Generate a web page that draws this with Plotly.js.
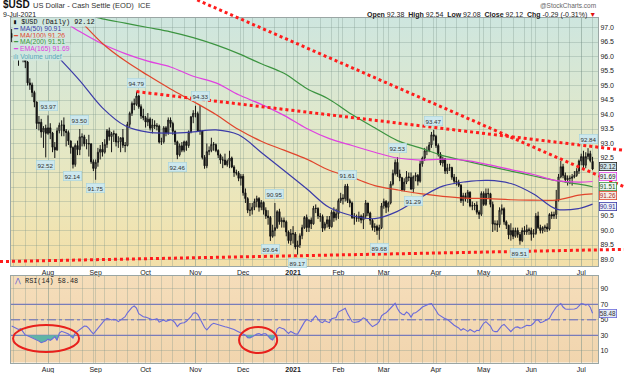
<!DOCTYPE html>
<html><head><meta charset="utf-8">
<script src="https://cdn.plot.ly/plotly-3.0.1.min.js"></script>
<style>html,body{margin:0;padding:0;background:#fff}#chart{width:624px;height:373px}</style>
</head><body><div id="chart"></div>
<script>
// ---------- DATA ----------
// trading-day index 0 = 10-Jul-2020 ... 256 = 9-Jul-2021
const monthIdx = [16,37,59,81,102,124,144,164,187,208,229,251];
const monthLabels = ['Aug','Sep','Oct','Nov','Dec','<b>2021</b>','Feb','Mar','Apr','May','Jun','Jul'];

const openP = [
96.80,96.65,96.46,96.45,95.97,96.31,95.90,95.81,95.09,95.02,94.76,94.43,93.69,93.73,93.40,93.53,
93.35,93.54,93.36,92.87,92.78,93.44,93.63,93.64,93.43,93.38,93.09,92.86,92.28,92.93,92.79,93.23,93.23,92.99,93.00,92.99,92.37,
92.14,92.35,92.70,92.80,92.70,92.97,93.44,93.24,93.34,93.33,93.05,93.06,93.20,92.94,92.93,93.66,94.04,94.38,94.35,94.64,94.27,93.95,
93.89,93.74,93.84,93.53,93.64,93.61,93.60,93.05,93.06,93.54,93.37,93.81,93.69,93.42,93.06,92.61,92.92,92.77,93.06,92.93,93.40,93.92,
94.04,94.03,93.43,93.44,92.52,92.23,92.72,92.76,92.97,92.96,92.76,92.60,92.43,92.43,92.27,92.39,92.50,92.19,92.00,91.98,91.80,
91.87,91.30,91.10,90.70,90.70,90.80,91.00,91.10,90.80,90.97,90.70,90.50,90.45,89.80,90.00,90.10,90.65,90.30,90.35,90.30,89.95,89.65,
89.90,89.88,89.43,89.50,89.82,90.10,90.45,90.10,90.36,90.23,90.77,90.76,90.50,90.48,90.08,90.23,90.37,90.13,90.63,90.44,
90.58,91.03,91.12,91.10,91.53,91.03,90.95,90.45,90.43,90.42,90.49,90.36,90.50,90.95,90.60,90.35,90.10,90.14,90.00,90.10,
90.85,91.00,90.80,90.95,91.60,91.97,92.35,91.95,91.82,91.40,91.67,91.85,91.83,91.43,91.85,91.90,91.70,92.30,92.50,92.75,92.75,92.95,93.30,
93.25,92.93,92.62,92.33,92.47,92.05,92.16,92.17,91.84,91.70,91.67,91.56,91.03,91.20,91.10,91.32,90.85,90.85,90.88,90.63,90.56,
91.28,90.90,91.28,91.27,90.90,90.22,90.23,90.20,90.70,90.75,90.30,90.18,89.85,90.00,89.80,90.00,89.86,89.65,90.00,89.95,90.03,
90.00,89.87,89.90,90.50,90.10,90.00,90.10,90.12,90.05,90.55,90.50,90.55,91.05,91.85,92.20,91.90,91.75,91.80,91.80,91.85,91.90,92.05,
92.40,92.55,92.25,92.55,92.65,92.38];
const highP = [
96.95,96.75,96.85,96.50,96.45,96.40,96.10,95.85,95.25,95.10,94.82,94.45,93.95,93.85,93.60,93.65,
93.97,93.70,93.40,93.05,93.55,93.72,93.80,93.90,93.50,93.45,93.10,92.90,93.00,93.10,93.50,93.35,93.30,93.15,93.30,93.00,92.45,
92.45,92.85,92.95,93.05,93.15,93.50,93.55,93.40,93.45,93.35,93.25,93.20,93.50,93.05,93.75,94.10,94.45,94.55,94.79,94.68,94.35,94.20,
93.95,94.05,93.90,93.85,93.80,93.70,93.65,93.20,93.60,93.60,93.90,93.90,93.75,93.45,93.10,93.00,93.05,93.10,93.10,93.45,93.95,94.15,
94.30,94.10,94.33,93.45,92.60,93.00,92.90,93.20,93.05,93.00,92.80,92.65,92.55,92.65,92.45,92.75,92.55,92.25,92.10,92.05,91.95,
91.95,91.45,91.15,90.95,90.95,91.10,91.20,91.15,91.05,91.00,90.80,90.70,90.50,90.20,90.95,90.70,90.75,90.45,90.45,90.35,90.00,90.05,
90.15,89.95,89.65,89.90,90.20,90.50,90.55,90.40,90.45,90.85,90.90,90.80,90.60,90.55,90.30,90.50,90.50,90.70,90.80,90.75,
91.10,91.30,91.25,91.60,91.61,91.10,91.00,90.60,90.55,90.65,90.55,90.60,91.05,90.95,90.65,90.40,90.25,90.20,90.20,90.95,
91.10,91.05,91.00,91.70,92.10,92.45,92.53,92.10,91.85,91.80,92.05,92.00,92.00,91.90,92.00,91.95,92.40,92.55,92.85,92.90,93.05,93.40,93.47,
93.30,93.00,92.70,92.55,92.50,92.30,92.30,92.20,91.95,91.85,91.75,91.60,91.30,91.30,91.40,91.35,91.00,90.95,91.00,90.70,91.35,
91.35,91.45,91.45,91.30,91.00,90.35,90.35,90.80,90.90,90.80,90.35,90.20,90.25,90.10,90.10,90.10,89.95,90.10,90.15,90.20,90.10,
90.10,90.05,90.60,90.65,90.20,90.15,90.20,90.25,90.60,90.65,90.65,91.40,91.95,92.40,92.30,92.00,91.90,91.90,91.95,92.05,92.15,92.45,
92.65,92.75,92.70,92.84,92.75,92.54];
const lowP = [
96.50,96.10,96.30,95.68,95.90,95.80,95.60,95.00,94.85,94.60,94.25,93.50,93.45,93.20,92.85,92.52,
93.30,93.15,92.70,92.50,92.75,93.35,93.25,93.25,92.90,92.95,92.65,92.14,92.20,92.60,92.60,92.90,92.90,92.80,92.55,92.30,92.05,
91.75,92.20,92.45,92.55,92.65,92.85,93.10,92.70,93.05,92.90,92.85,92.70,92.85,92.70,92.90,93.55,93.95,94.15,94.30,94.20,93.85,93.80,
93.55,93.60,93.45,93.35,93.50,93.45,93.00,92.95,93.00,93.25,93.30,93.55,93.30,92.95,92.46,92.55,92.70,92.70,92.75,92.85,93.35,93.70,
93.90,93.40,93.30,92.45,92.13,92.15,92.60,92.70,92.75,92.70,92.50,92.30,92.15,92.25,92.20,92.15,92.15,91.85,91.90,91.70,91.55,
91.20,90.95,90.60,90.50,90.55,90.70,90.80,90.65,90.70,90.55,90.40,90.20,89.64,89.75,89.80,90.05,90.20,90.10,90.10,89.80,89.55,89.50,
89.55,89.35,89.17,89.40,89.70,90.05,89.95,89.95,90.05,90.20,90.60,90.40,90.30,89.95,90.00,90.10,90.05,90.10,90.30,90.35,
90.40,90.95,90.90,91.00,90.95,90.80,90.40,90.20,90.30,90.30,90.25,90.05,90.40,90.50,90.20,90.00,89.95,89.85,89.68,90.05,
90.75,90.60,90.65,90.90,91.55,91.90,91.85,91.70,91.35,91.35,91.60,91.70,91.40,91.29,91.70,91.55,91.65,92.20,92.40,92.60,92.70,92.85,93.10,
92.85,92.55,92.25,92.20,91.95,91.95,92.05,91.75,91.60,91.55,91.50,90.95,90.85,91.00,90.95,90.80,90.70,90.70,90.55,90.40,90.50,
90.85,90.85,91.10,90.80,89.95,90.00,89.95,90.10,90.55,90.20,90.05,89.70,89.65,89.70,89.75,89.75,89.51,89.60,89.85,89.85,89.85,
89.65,89.75,89.85,90.05,89.90,89.90,89.95,89.95,90.00,90.40,90.40,90.40,91.00,91.80,91.80,91.65,91.55,91.60,91.55,91.80,91.85,91.95,
92.25,92.15,92.15,92.45,92.35,92.08];
const closeP = [
96.65,96.46,96.45,95.97,96.31,95.90,95.81,95.09,95.02,94.76,94.43,93.69,93.73,93.40,93.53,93.35,
93.54,93.36,92.87,92.78,93.44,93.63,93.64,93.43,93.38,93.09,92.86,92.28,92.93,92.79,93.23,93.23,92.99,93.00,92.99,92.37,92.14,
92.35,92.70,92.80,92.70,92.97,93.44,93.24,93.34,93.33,93.05,93.06,93.20,92.94,92.93,93.66,94.04,94.38,94.35,94.64,94.27,93.95,93.89,
93.74,93.84,93.53,93.64,93.61,93.60,93.05,93.06,93.54,93.37,93.81,93.69,93.42,93.06,92.61,92.92,92.77,93.06,92.93,93.40,93.92,94.04,
94.03,93.43,93.44,92.52,92.23,92.72,92.76,92.97,92.96,92.76,92.60,92.43,92.43,92.27,92.39,92.50,92.19,92.00,91.98,91.80,91.87,
91.30,91.10,90.70,90.70,90.80,91.00,91.10,90.80,90.97,90.70,90.50,90.45,89.80,90.00,90.10,90.65,90.30,90.35,90.30,89.95,89.65,89.90,
89.88,89.43,89.50,89.82,90.10,90.45,90.10,90.36,90.23,90.77,90.76,90.50,90.48,90.08,90.23,90.37,90.13,90.63,90.44,90.58,
91.03,91.12,91.10,91.53,91.03,90.95,90.45,90.43,90.42,90.49,90.36,90.50,90.95,90.60,90.35,90.10,90.14,90.00,90.10,90.85,
91.00,90.80,90.95,91.60,91.97,92.35,91.95,91.82,91.40,91.67,91.85,91.83,91.43,91.85,91.90,91.70,92.30,92.50,92.75,92.75,92.95,93.30,93.25,
92.93,92.62,92.33,92.47,92.05,92.16,92.17,91.84,91.70,91.67,91.56,91.03,91.20,91.10,91.32,90.85,90.85,90.88,90.63,90.56,91.28,
90.90,91.28,91.27,90.90,90.22,90.23,90.20,90.70,90.75,90.30,90.18,89.85,90.00,89.80,90.00,89.86,89.65,90.00,89.95,90.03,90.00,
89.87,89.90,90.50,90.10,90.00,90.10,90.12,90.05,90.55,90.50,90.55,91.05,91.85,92.20,91.90,91.75,91.80,91.80,91.85,91.90,92.05,92.40,
92.55,92.25,92.55,92.65,92.41,92.12];

const rsi = [
42,40.5,39,37.5,38.5,34,30.4,29.5,28.3,27,
25.5,24,22.5,20.5,21.5,22.5,25,23.5,25.5,28.3,
23.5,33,35.2,34.5,33,31.7,29,26.5,33,35.5,
37.5,40,42,41.5,39,35,31.7,35.5,39.5,43.5,
47,50,51.9,50.5,49.8,50.5,50,47.6,49.5,52,
54,59,63,66,67.8,65,58,55.5,54,53.5,
52,50.6,50,50.5,51.5,47,48,49.8,48,49,
50.2,49,46,41.2,44.5,45.8,46.3,48,51,54,
58.4,59.2,57,50.6,45,40,36.9,41,43.8,45.5,
44.5,43.3,42.3,41.5,41,40.5,39.8,38.5,37.5,36,
34.7,33.6,32.5,30.2,27,26.5,28,30,31.5,32.2,
30.6,32,32,29,25.5,24,28.3,38,40.3,39,
38,35,32.4,35,33,31.7,31.5,36.9,42,47,
50.6,49.5,47.6,52,55,51,47.5,46.3,48.9,47.5,
46.3,51.5,52.5,53,60,61.5,62.5,64.8,58,52,
47.6,46.5,47,47.6,50,52.5,51,47,44,41.2,
42.8,44.5,48,55,57.5,59,62,65,69,71.3,
64.5,60,57.5,56.5,60,58,53.5,58.5,59,61,
63.6,66.5,68,69.1,70.5,71,67,62,57,55,
53,51.5,50.5,48.5,45.5,43,41.5,39.5,36.5,38.5,
37,35,37.5,36,34,36.5,36,41,45.5,47.6,
45,42,36,34.7,34.7,39.5,42.5,44,40.5,37,
34.7,38,40.5,40.8,39.3,39.8,41,43,42.5,43,
45.5,49.5,50,46.3,47.2,48.5,49.8,52,57.5,62.7,
66.5,69,71,66.5,64,63.6,63.6,63.6,64,64.8,
68.5,71,70.5,68.8,70,66,58.48];

const maIdx  = [0,10,20,30,40,50,60,70,80,90,100,110,120,130,140,150,160,170,180,190,200,210,220,230,240,250,256];
const ma50   = [97.6,96.85,96.02,95.17,94.23,93.61,93.39,93.36,93.40,93.47,93.30,92.69,92.07,91.44,90.79,90.51,90.41,90.66,91.13,91.53,91.68,91.73,91.62,91.26,90.74,90.76,90.91];
const ma100  = [98.8,98.45,98.05,97.25,96.45,95.85,95.35,94.88,94.45,94.00,93.48,93.08,92.77,92.46,92.08,91.83,91.55,91.40,91.27,91.18,91.12,91.10,91.06,91.05,91.05,91.22,91.26];
const ma200  = [97.95,97.8,97.65,97.5,97.3,97.15,97.0,96.85,96.65,96.4,96.1,95.75,95.42,94.9,94.52,94.0,93.54,93.1,92.85,92.58,92.40,92.22,92.05,91.88,91.72,91.60,91.51];
const ema165 = [98.2,97.75,97.35,96.86,96.43,96.10,95.84,95.64,95.32,95.09,94.68,94.35,93.97,93.52,93.17,92.93,92.70,92.50,92.43,92.46,92.42,92.27,92.10,91.93,91.72,91.67,91.69];

const pivotIdx  = [15,16,27,30,37,55,73,83,114,116,126,148,162,170,177,186,224,254];
const pivotKind = ['L','H','L','H','L','H','L','H','L','H','L','H','L','H','L','H','L','H'];

const priceTicks = [89.0,89.5,90.0,90.5,91.0,91.5,92.0,92.5,93.0,93.5,94.0,94.5,95.0,95.5,96.0,96.5,97.0];
const rsiTicks = [10,30,50,70,90];
const rsiLevels = [70,50,30];

// analyst trendlines: anchor points [trading-day index, price]
const trendSteep = [[127,96.40],[205,93.73]];
const trendUpper = [[55,94.79],[193,93.49]];
const trendLower = [[126,89.13],[224,89.28]];
// analyst ellipses on RSI: [idx0, idx1, rsi0, rsi1]
const ellipses = [[0.6,29.7,8.5,43.3],[100.2,117,7.2,40.7]];

// ---------- LAYOUT HELPERS ----------
const W = 624, H = 373;
const P = v => v / W, Q = v => 1 - v / H;
const XR = [-0.31, 258.4], XD = [P(11), P(598)];
const YR = [88.776, 97.328], YD = [Q(266), Q(18)];
const Y2R = [-5.35, 106.9], Y2D = [Q(362.7), Q(275.7)];
const idx = closeP.map((_, i) => i);
const last = a => a[a.length - 1];
const f2 = v => v.toFixed(2);

const FONT = 'Liberation Sans, DejaVu Sans, sans-serif';
const MONO = 'Liberation Mono, DejaVu Sans Mono, monospace';
const GRID = 'rgba(120,145,135,0.30)';

const C50 = '#3b3ba8', C100 = '#e0452c', C200 = '#3c9440', CEMA = '#e040e0', CRSI = '#6a6ada';

// ---------- TRACES ----------
const traces = [
  {type:'candlestick', x: idx, open: openP, high: highP, low: lowP, close: closeP,
   xaxis:'x', yaxis:'y', whiskerwidth: 0,
   increasing:{line:{color:'#1a1a1a', width:1}, fillcolor:'#a3a28a'},
   decreasing:{line:{color:'#111', width:1}, fillcolor:'#111'}, hoverinfo:'skip'},
  {type:'scatter', mode:'lines', x: maIdx, y: ma200, line:{color:C200, width:1.2, shape:'spline'}, xaxis:'x', yaxis:'y', hoverinfo:'skip'},
  {type:'scatter', mode:'lines', x: maIdx, y: ema165, line:{color:CEMA, width:1.2, shape:'spline'}, xaxis:'x', yaxis:'y', hoverinfo:'skip'},
  {type:'scatter', mode:'lines', x: maIdx, y: ma100, line:{color:C100, width:1.2, shape:'spline'}, xaxis:'x', yaxis:'y', hoverinfo:'skip'},
  {type:'scatter', mode:'lines', x: maIdx, y: ma50, line:{color:C50, width:1.2, shape:'spline'}, xaxis:'x', yaxis:'y', hoverinfo:'skip'},
  {type:'scatter', mode:'lines', x: idx, y: idx.map(() => 30), line:{width:0, color:'rgba(0,0,0,0)'}, xaxis:'x2', yaxis:'y2', hoverinfo:'skip'},
  {type:'scatter', mode:'lines', x: idx, y: rsi.map(v => Math.min(v, 30)), fill:'tonexty', fillcolor:'#5fb5a6',
   line:{width:0, color:'rgba(0,0,0,0)'}, xaxis:'x2', yaxis:'y2', hoverinfo:'skip'},
  {type:'scatter', mode:'lines', x: idx, y: rsi, line:{color:CRSI, width:1.1}, xaxis:'x2', yaxis:'y2', hoverinfo:'skip'}
];

// ---------- SHAPES ----------
const tpx = i => XD[0] + (i - XR[0]) / (XR[1] - XR[0]) * (XD[1] - XD[0]);
const tpy = v => YD[0] + (v - YR[0]) / (YR[1] - YR[0]) * (YD[1] - YD[0]);
function trend(pts, fromFirst) {
  const x1 = tpx(pts[0][0]), y1 = tpy(pts[0][1]), x2 = tpx(pts[1][0]), y2 = tpy(pts[1][1]);
  const m = (y2 - y1) / (x2 - x1);
  let xs = fromFirst ? x1 : 0, ys = y1 + m * (xs - x1);
  if (ys > 1) { xs = x1 + (1 - y1) / m; ys = 1; }
  const xe = 1, ye = y1 + m * (xe - x1);
  return {type:'line', xref:'paper', yref:'paper', x0:xs, y0:ys, x1:xe, y1:ye,
          line:{color:'#ff1c1c', width:3, dash:'3px,3px'}, layer:'above'};
}
const shapes = [
  trend(trendSteep, false), trend(trendUpper, true), trend(trendLower, false),
  ...rsiLevels.map(l => ({type:'line', xref:'x2 domain', yref:'y2', x0:0, x1:1, y0:l, y1:l,
     line:{color:'#5b5bd4', width:1, dash: l === 50 ? 'dashdot' : 'solid'}, layer:'below'})),
  ...ellipses.map(e => ({type:'circle', xref:'x2', yref:'y2', x0:e[0], x1:e[1], y0:e[2], y1:e[3],
     line:{color:'#e8201c', width:2}}))
];

// ---------- BACKGROUND GRADIENTS ----------
function grad(stops) {
  const s = stops.map(([o, c]) => `<stop offset="${o}" stop-color="${c}"/>`).join('');
  const svg = `<svg xmlns="http://www.w3.org/2000/svg" width="100" height="100" viewBox="0 0 100 100" preserveAspectRatio="none"><defs><linearGradient id="g" x1="0" y1="0" x2="0" y2="1">${s}</linearGradient></defs><rect width="100" height="100" fill="url(#g)"/></svg>`;
  return 'data:image/svg+xml;charset=utf-8,' + encodeURIComponent(svg);
}
const images = [
  {source: grad([[0,'#cee6df'],[0.4,'#dfe8cc'],[0.75,'#ede6b9'],[1,'#f3dfa8']]),
   xref:'paper', yref:'paper', x:XD[0], y:YD[1], sizex:XD[1]-XD[0], sizey:YD[1]-YD[0],
   xanchor:'left', yanchor:'top', sizing:'stretch', layer:'below'},
  {source: grad([[0,'#f5ddba'],[1,'#f1d5ae']]),
   xref:'paper', yref:'paper', x:XD[0], y:Y2D[1], sizex:XD[1]-XD[0], sizey:Y2D[1]-Y2D[0],
   xanchor:'left', yanchor:'top', sizing:'stretch', layer:'below'}
];

// ---------- ANNOTATIONS ----------
const n = closeP.length;
const chg = closeP[n-1] - closeP[n-2];
const pct = chg / closeP[n-2] * 100;
const ann = [];
const txt = (text, x, y, opts = {}) => ann.push(Object.assign({text, xref:'paper', yref:'paper', x, y,
   xanchor:'left', yanchor:'middle', showarrow:false, font:{family:FONT, size:7.5, color:'#222'}}, opts));

txt('<b>$USD</b>', P(1), Q(4.6), {font:{family:FONT, size:10, color:'#111'}});
txt('US Dollar - Cash Settle (EOD)  ICE', P(31), Q(5.5), {font:{family:FONT, size:7.5, color:'#333'}});
txt('9-Jul-2021', P(1), Q(14.6), {font:{family:FONT, size:7, color:'#222'}});
txt('@StockCharts.com', P(598), Q(5), {xanchor:'right', font:{family:FONT, size:6.5, color:'#666'}});
txt(`<b>Open</b> ${f2(last(openP))}  <b>High</b> ${f2(last(highP))}  <b>Low</b> ${f2(last(lowP))}  <b>Close</b> ${f2(last(closeP))}  <b>Chg</b> ${f2(chg)} (${pct.toFixed(2)}%) <span style="color:#e01010">▼</span>`,
    P(598), Q(14.5), {xanchor:'right', font:{family:FONT, size:7, color:'#222'}});

// price legend rows
const legBg = '#d0e7df';
const legRows = [
  [`<b>▮</b> $USD (Daily) ${f2(last(closeP))}`, '#111', MONO, 21.9],
  [`━ MA(50) ${f2(last(ma50))}`, C50, FONT, 28.8],
  [`━ MA(100) ${f2(last(ma100))}`, C100, FONT, 35.6],
  [`━ MA(200) ${f2(last(ma200))}`, C200, FONT, 42.4],
  [`━ EMA(165) ${f2(last(ema165))}`, CEMA, FONT, 49.5],
  [`ılı Volume undef`, '#58a8b8', FONT, 56.5]
];
legRows.forEach(([t, c, fam, y]) => txt(t, P(12), Q(y), {bgcolor:legBg, borderpad:0, font:{family:fam, size:6.8, color:c}}));

// RSI legend
txt(`<span style="color:#5b5bd4">⋀</span> RSI(14) ${f2(last(rsi))}`, P(12), Q(280.5), {font:{family:MONO, size:6.8, color:'#222'}});

// pivot labels
pivotIdx.forEach((i, k) => {
  const hi = pivotKind[k] === 'H';
  const v = hi ? highP[i] : lowP[i];
  ann.push({text: f2(v), x: i, y: v, xref:'x', yref:'y', showarrow:false, yshift: hi ? 9 : -8,
    font:{family:FONT, size:6.2, color:'#333'}, bgcolor:'#cde8ee', bordercolor:'#9fcfd9', borderwidth:0.5, borderpad:1});
});

// right-side value boxes (value, border colour, text colour, fill, vertical nudge in px)
const boxes = [
  [last(closeP), '#222', '#222', '#cfe3ea', 3],
  [last(ema165), CEMA, '#222', '#eef4f2', 5.5],
  [last(ma200), C200, '#225522', '#eef4f2', 0.7],
  [last(ma100), C100, '#aa2a1a', '#f6eee6', -2],
  [last(ma50), C50, '#2a2a90', '#eef0f6', -1.9]
];
boxes.forEach(([v, bc, tc, bg, sh]) => ann.push({text: f2(v), x: P(599), y: v, xref:'paper', yref:'y',
  xanchor:'left', yanchor:'middle', yshift: sh, showarrow:false, font:{family:FONT, size:6.3, color:tc},
  bgcolor:bg, bordercolor:bc, borderwidth:0.8, borderpad:0}));
ann.push({text: f2(last(rsi)), x: P(599), y: last(rsi), xref:'paper', yref:'y2', xanchor:'left', yanchor:'middle',
  showarrow:false, font:{family:FONT, size:6.3, color:'#333'}, bgcolor:'#e6ecf7', bordercolor:CRSI, borderwidth:0.8, borderpad:0});

// price tick labels hidden where the value boxes sit on top of them
const boxVals = boxes.map(b => b[0]);
const priceTickText = priceTicks.map(v => boxVals.some(b => Math.abs(b - v) < 0.15) ? '' : v.toFixed(1));

// ---------- AXES ----------
const xCommon = {range: XR, domain: XD, tickmode:'array', tickvals: monthIdx, ticktext: monthLabels,
  showgrid:true, gridcolor:GRID, gridwidth:1, zeroline:false, ticks:'', showline:true, mirror:true,
  linecolor:'#9aa6a4', linewidth:1, tickfont:{family:FONT, size:7, color:'#222'},
  minor:{tickmode:'linear', tick0:1, dtick:5, showgrid:true, gridcolor:GRID, gridwidth:1, ticks:''},
  fixedrange:true};

const layout = {
  width: W, height: H, autosize:false, margin:{l:0, r:0, t:0, b:0, pad:0},
  paper_bgcolor:'#ffffff', plot_bgcolor:'rgba(0,0,0,0)', showlegend:false, hovermode:false,
  font:{family:FONT, size:7, color:'#222'},
  xaxis: Object.assign({}, xCommon, {anchor:'y', rangeslider:{visible:false}}),
  yaxis: {domain: YD, range: YR, side:'right', tickmode:'array', tickvals: priceTicks,
    ticktext: priceTickText, showgrid:true, gridcolor:GRID, zeroline:false, ticks:'',
    showline:true, mirror:true, linecolor:'#9aa6a4', linewidth:1, tickfont:{family:FONT, size:7, color:'#222'},
    anchor:'x', fixedrange:true},
  xaxis2: Object.assign({}, xCommon, {anchor:'y2'}),
  yaxis2: {domain: Y2D, range: Y2R, side:'right', tickmode:'array', tickvals: rsiTicks,
    showgrid:true, gridcolor:GRID, zeroline:false, ticks:'', showline:true, mirror:true,
    linecolor:'#9aa6a4', linewidth:1, tickfont:{family:FONT, size:7, color:'#222'}, anchor:'x2', fixedrange:true},
  shapes, images, annotations: ann
};

Plotly.newPlot('chart', traces, layout, {displayModeBar:false, staticPlot:true});
</script>
</body></html>
